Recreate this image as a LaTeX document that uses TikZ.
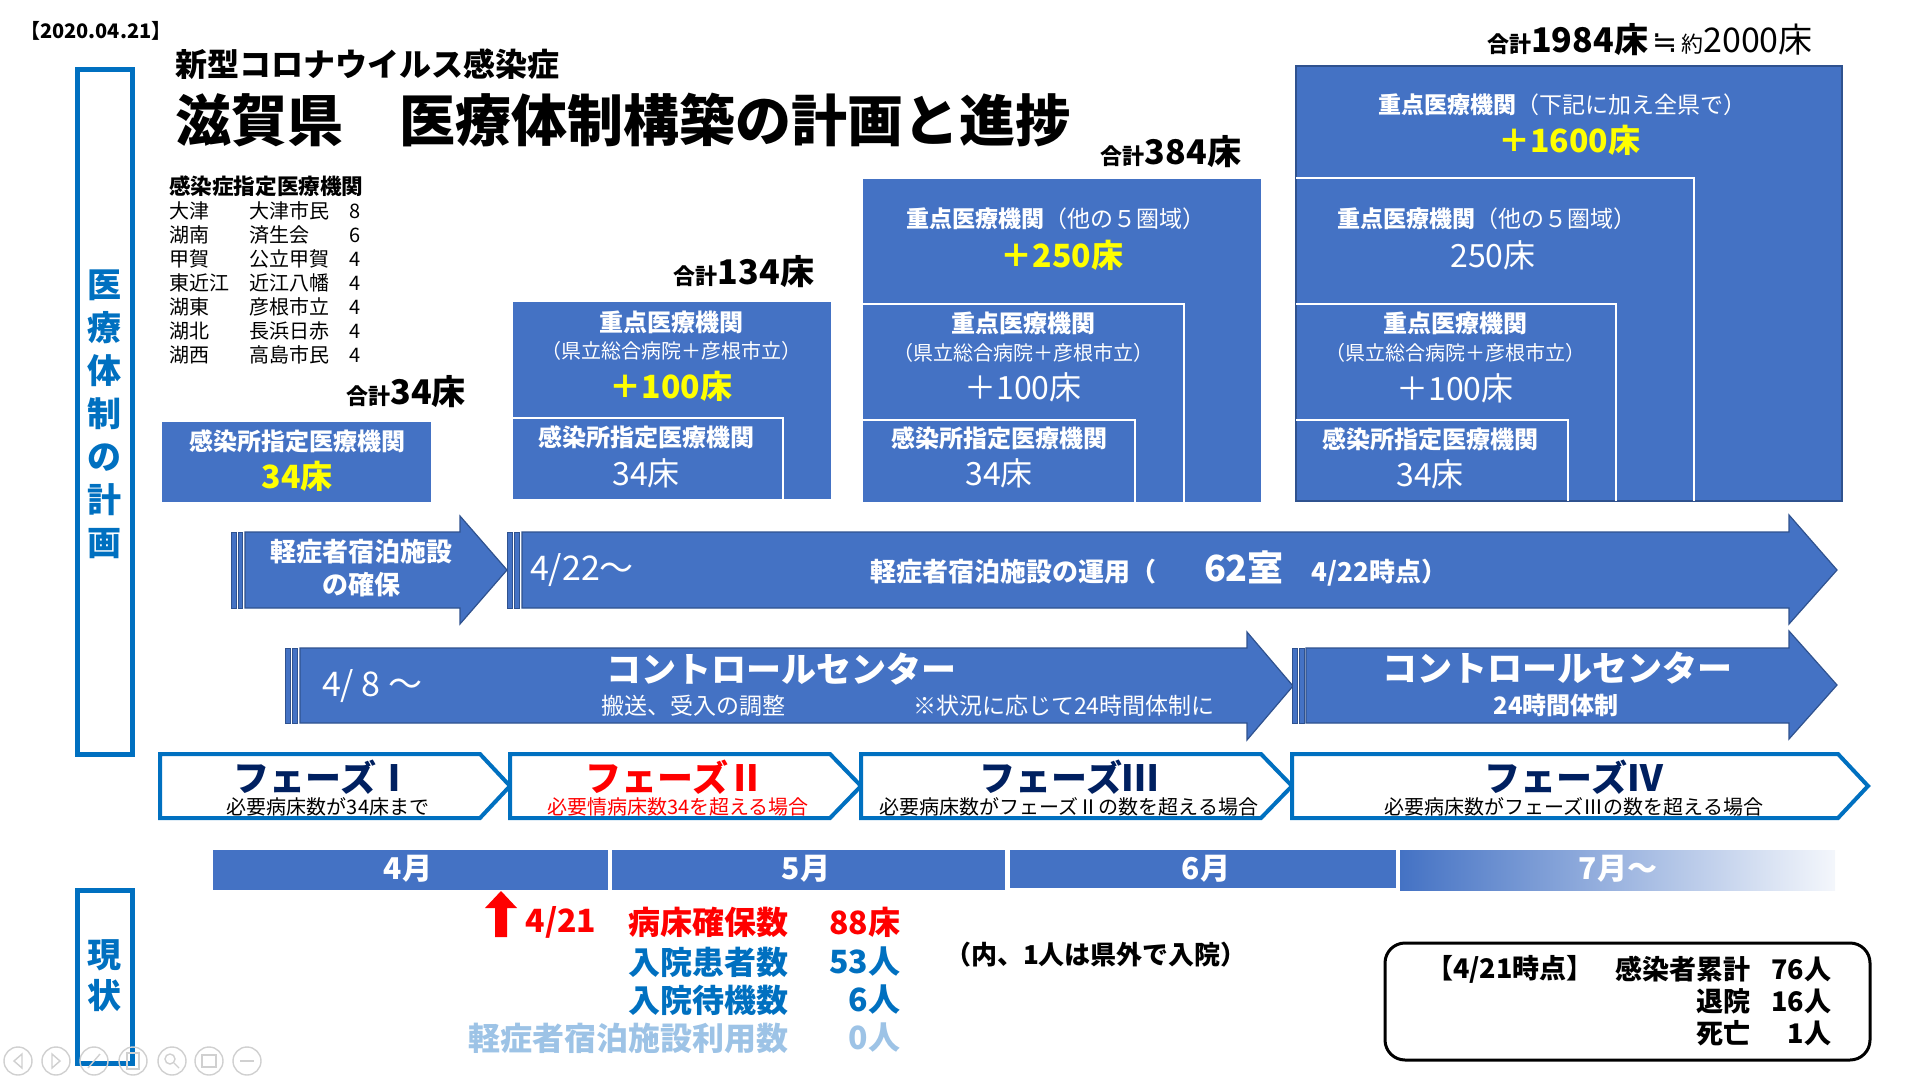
\documentclass[tikz,border=0pt]{standalone}
\usepackage{fontspec}
\setmainfont{Noto Sans CJK JP}
\newfontfamily\djv{DejaVu Sans}
\definecolor{cblue}{HTML}{4472C4}
\definecolor{cdark}{HTML}{2F528F}
\definecolor{cout}{HTML}{0070C0}
\definecolor{cnavy}{HTML}{002060}
\definecolor{cyel}{HTML}{FFFF00}
\definecolor{clight}{HTML}{9DC3E6}
\definecolor{cgray}{HTML}{D0D0D0}
\newcommand{\fsz}[1]{\fontsize{#1}{#1}\selectfont}
\begin{document}
\begin{tikzpicture}[x=0.5pt,y=-0.5pt,
  every node/.style={inner sep=0pt, outer sep=0pt},
  wline/.style={draw=white, line width=1.2pt},
  arr/.style={fill=cblue, draw=cdark, line width=0.6pt},
  stripe/.style={fill=cblue, draw=cdark, line width=0.4pt},
  phase/.style={draw=cout, line width=2pt, fill=white},
  wt/.style={text=white},
  wb12/.style={text=white, font=\bfseries\fsz{12}},
  wr10/.style={text=white, font=\fsz{10}},
  big16/.style={font=\fsz{16}},
  tbl/.style={anchor=west, font=\fsz{10}},
  stat/.style={anchor=east, font=\bfseries\fsz{16}},
  sbox/.style={anchor=east, font=\bfseries\fsz{13.5}},
  ptitle/.style={font=\bfseries\fsz{18}},
  psub/.style={font=\fsz{10}},
  month/.style={text=white, font=\bfseries\fsz{15}},
  tool/.style={draw=cgray, line width=0.7pt}
]
\useasboundingbox (0,0) rectangle (1920,1080);

% date and titles
\node[anchor=west, font=\bfseries\fsz{10}] (date) at (20,31) {【2020.04.21】};
\node[anchor=west, font=\bfseries\fsz{16}] (sub) at (175,64) {新型コロナウイルス感染症};
\node[anchor=west, font=\bfseries\fsz{28}] (title) at (175,120) {滋賀県　医療体制構築の計画と進捗};

% left boxes
\draw[cout, line width=2.5pt] (77,70) rectangle (132,754);
\node[text=cout, font=\bfseries\fontsize{17}{21.5}\selectfont, align=center] (lt) at (104.5,414) {医\\療\\体\\制\\の\\計\\画};
\draw[cout, line width=2.5pt] (77,890) rectangle (132,1063);
\node[text=cout, font=\bfseries\fontsize{17}{20.5}\selectfont, align=center] (gj) at (104.5,975.5) {現\\状};

% table
\node[anchor=west, font=\bfseries\fsz{10.8}] (thead) at (169,186) {感染症指定医療機関};
\foreach \a/\b/\c [count=\i from 0] in {大津/大津市民/8, 湖南/済生会/6, 甲賀/公立甲賀/4, 東近江/近江八幡/4, 湖東/彦根市立/4, 湖北/長浜日赤/4, 湖西/高島市民/4} {
  \node[tbl] (ta\i) at (169,{211+24*\i}) {\a};
  \node[tbl] (tb\i) at (249,{211+24*\i}) {\b};
  \node[tbl] (tc\i) at (349,{211+24*\i}) {\c};
}

% totals
\node[font=\bfseries] (tot1) at (406,392) {{\fsz{11}合計}{\fsz{17}34床}};
\node[font=\bfseries] (tot2) at (744,272) {{\fsz{11}合計}{\fsz{17}134床}};
\node[font=\bfseries] (tot3) at (1171,152) {{\fsz{11}合計}{\fsz{17}384床}};
\node (tot4) at (1650,40) {{\bfseries\fsz{11}合計}{\bfseries\fsz{17}1984床}\hspace{2pt}{\djv\fsz{15}≒}\hspace{2pt}{\fsz{11}約}{\fsz{17}2000床}};

% stage 1
\fill[cblue] (162,422) rectangle (431,502);
\node[wb12] (s1a) at (297,441) {感染所指定医療機関};
\node[text=cyel, font=\bfseries\fsz{16}] (s1b) at (297,476) {34床};

% stage 2
\fill[cblue] (513,302) rectangle (831,499);
\draw[wline] (513,418) -- (783,418) -- (783,499);
\node[wb12] (s2a) at (671,322) {重点医療機関};
\node[wr10] (s2b) at (671,351) {（県立総合病院＋彦根市立）};
\node[text=cyel, font=\bfseries\fsz{16}] (s2c) at (671,386) {＋100床};
\node[wb12] (s2d) at (646,437) {感染所指定医療機関};
\node[wt, big16] (s2e) at (646,473) {34床};

% stage 3
\fill[cblue] (863,179) rectangle (1261,502);
\draw[wline] (863,304) -- (1184,304) -- (1184,502);
\draw[wline] (863,420) -- (1135,420) -- (1135,502);
\node[wt, font=\fsz{11.5}] (s3a) at (1056,219) {{\bfseries 重点医療機関}（他の５圏域）};
\node[text=cyel, font=\bfseries\fsz{16}] (s3b) at (1062,255) {＋250床};
\node[wb12] (s3c) at (1023,323) {重点医療機関};
\node[wr10] (s3d) at (1023,353) {（県立総合病院＋彦根市立）};
\node[wt, big16] (s3e) at (1023,387) {＋100床};
\node[wb12] (s3f) at (999,438) {感染所指定医療機関};
\node[wt, big16] (s3g) at (999,473) {34床};

% stage 4
\fill[cblue, draw=cdark, line width=1pt] (1296,66) rectangle (1842,501);
\draw[wline] (1296,178) -- (1694,178) -- (1694,501);
\draw[wline] (1296,304) -- (1616,304) -- (1616,501);
\draw[wline] (1296,420) -- (1568,420) -- (1568,501);
\node[wt, font=\fsz{11.5}] (s4a) at (1562,105) {{\bfseries 重点医療機関}（下記に加え全県で）};
\node[text=cyel, font=\bfseries\fsz{16}] (s4b) at (1569,140) {＋1600床};
\node[wt, font=\fsz{11.5}] (s4c) at (1487,219) {{\bfseries 重点医療機関}（他の５圏域）};
\node[wt, big16] (s4d) at (1493,255) {250床};
\node[wb12] (s4e) at (1455,323) {重点医療機関};
\node[wr10] (s4f) at (1455,353) {（県立総合病院＋彦根市立）};
\node[wt, big16] (s4g) at (1455,388) {＋100床};
\node[wb12] (s4h) at (1430,439) {感染所指定医療機関};
\node[wt, big16] (s4i) at (1430,474) {34床};

% arrow 1
\filldraw[stripe] (231,532) rectangle (236,608);
\filldraw[stripe] (238,532) rectangle (242,608);
\filldraw[arr] (245,532) -- (460,532) -- (460,516) -- (507,570) -- (460,624) -- (460,608) -- (245,608) -- cycle;
\node[wt, font=\bfseries\fsz{13}] (a1a) at (361,552) {軽症者宿泊施設};
\node[wt, font=\bfseries\fsz{13}] (a1b) at (361,585) {の確保};

% arrow 2
\filldraw[stripe] (507,532) rectangle (512,608);
\filldraw[stripe] (514,532) rectangle (519,608);
\filldraw[arr] (522,532) -- (1789,532) -- (1789,515) -- (1837,570) -- (1789,624) -- (1789,608) -- (522,608) -- cycle;
\node[wt, anchor=west, font=\fsz{17}] (a2a) at (530,570) {4/22～};
\node[wt, anchor=west, font=\bfseries\fsz{13}] (a2b) at (870,569) {軽症者宿泊施設の運用（\hspace{24pt}{\fsz{18}62室}\hspace{14pt}4/22時点）};

% arrow 3
\filldraw[stripe] (285,648) rectangle (290,723);
\filldraw[stripe] (292,648) rectangle (297,723);
\filldraw[arr] (300,648) -- (1247,648) -- (1247,632) -- (1293,686) -- (1247,740) -- (1247,723) -- (300,723) -- cycle;
\node[wt, anchor=west, font=\fsz{17}] (a3a) at (322,686) {4/ 8 ～};
\node[wt, font=\bfseries\fsz{17.5}] (a3b) at (781,669) {コントロールセンター};
\node[wt, anchor=west, font=\fsz{11.5}] (a3c) at (601,706) {搬送、受入の調整};
\node[wt, anchor=west, font=\fsz{11.5}] (a3d) at (913,706) {※状況に応じて24時間体制に};

% arrow 4
\filldraw[stripe] (1292,648) rectangle (1297,723);
\filldraw[stripe] (1299,648) rectangle (1304,723);
\filldraw[arr] (1306,648) -- (1789,648) -- (1789,631) -- (1837,685) -- (1789,739) -- (1789,723) -- (1306,723) -- cycle;
\node[wt, font=\bfseries\fsz{17.5}] (a4a) at (1557,668) {コントロールセンター};
\node[wt, font=\bfseries\fsz{12}] (a4b) at (1556,705) {24時間体制};

% phases
\draw[phase] (160,754) -- (480,754) -- (510,786) -- (480,818) -- (160,818) -- cycle;
\draw[phase] (510,754) -- (830,754) -- (861,786) -- (830,818) -- (510,818) -- cycle;
\draw[phase] (861,754) -- (1261,754) -- (1292,786) -- (1261,818) -- (861,818) -- cycle;
\draw[phase] (1292,754) -- (1838,754) -- (1868,786) -- (1838,818) -- (1292,818) -- cycle;
\node[ptitle, text=cnavy] (p1a) at (323,777) {フェーズⅠ};
\node[psub] (p1b) at (328,807) {必要病床数が34床まで};
\node[ptitle, text=red] (p2a) at (675,777) {フェーズⅡ};
\node[psub, text=red] (p2b) at (678,807) {必要情病床数34を超える場合};
\node[ptitle, text=cnavy] (p3a) at (1069,777) {フェーズⅢ};
\node[psub] (p3b) at (1069,807) {必要病床数がフェーズⅡの数を超える場合};
\node[ptitle, text=cnavy] (p4a) at (1574,777) {フェーズⅣ};
\node[psub] (p4b) at (1574,807) {必要病床数がフェーズⅢの数を超える場合};

% months
\fill[cblue] (213,850) rectangle (608,890);
\fill[cblue] (612,850) rectangle (1005,890);
\fill[cblue] (1010,850) rectangle (1396,888);
\shade[left color=cblue, right color=white!94!cblue] (1400,850) rectangle (1835,890);
\node[month] (m4) at (408,869) {4月};
\node[month] (m5) at (806,869) {5月};
\node[month] (m6) at (1206,869) {6月};
\node[month] (m7) at (1618,869) {7月～};

% current status
\fill[red] (495,937) -- (507,937) -- (507,908) -- (517,908) -- (501,891) -- (485,908) -- (495,908) -- cycle;
\node[text=red, font=\bfseries\fsz{16}] (d421) at (561,922) {4/21};
\node[stat, text=red] (l1) at (788,922) {病床確保数};
\node[stat, text=red] (n1) at (900,922) {88床};
\node[stat, text=cout] (l2) at (788,962) {入院患者数};
\node[stat, text=cout] (n2) at (900,962) {53人};
\node[stat, text=cout] (l3) at (788,1000) {入院待機数};
\node[stat, text=cout] (n3) at (900,1000) {6人};
\node[stat, text=clight] (l4) at (788,1038) {軽症者宿泊施設利用数};
\node[stat, text=clight] (n4) at (900,1038) {0人};
\node[anchor=west, font=\bfseries\fsz{13}] (note) at (945,955) {（内、1人は県外で入院）};

\draw[line width=1.5pt, rounded corners=10pt] (1385,943) rectangle (1870,1060);
\node[anchor=west, font=\bfseries\fsz{13.5}] (b0) at (1426,969) {【4/21時点】};
\node[sbox] (b1) at (1750,969) {感染者累計};
\node[sbox] (b2) at (1831,969) {76人};
\node[sbox] (b3) at (1750,1001) {退院};
\node[sbox] (b4) at (1831,1001) {16人};
\node[sbox] (b5) at (1750,1033) {死亡};
\node[sbox] (b6) at (1831,1033) {1人};

% toolbar
\foreach \x [count=\k] in {18,56,94,133,172,209,247} {
  \draw[tool] (\x,1061) circle (14);
}
\draw[tool] (22,1054) -- (14,1061) -- (22,1068) -- cycle;
\draw[tool] (52,1054) -- (60,1061) -- (52,1068) -- cycle;
\draw[tool] (88,1068) -- (100,1054);
\draw[tool] (127,1053) rectangle (139,1069);
\draw[tool] (170,1059) circle (5);
\draw[tool] (174,1063) -- (179,1068);
\draw[tool] (202,1055) rectangle (216,1067);
\draw[tool] (240,1061) -- (254,1061);
\end{tikzpicture}
\end{document}
